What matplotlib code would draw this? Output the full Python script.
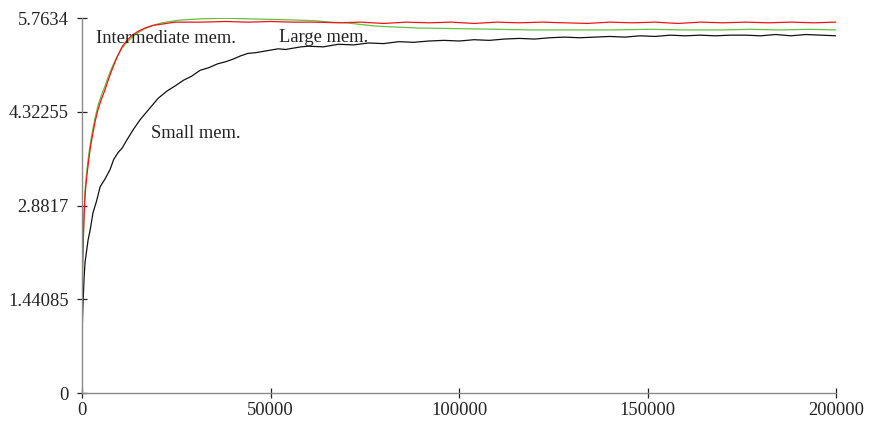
import matplotlib
matplotlib.use("Agg")
import matplotlib.pyplot as plt

plt.rcParams["font.family"] = ["Liberation Serif", "DejaVu Serif"]

# Small memory (black)
small_x = [0, 150, 300, 550, 800, 1200, 1600, 2200, 2900, 3800, 4800, 6000,
           7400, 8400, 9500, 10700, 11900, 13600, 15400, 16700, 18000, 20200,
           22500, 24700, 27000, 29100, 31300, 33600, 36000, 38000, 40000,
           42000, 44000, 46000, 48000, 50000, 52000, 54000, 56000, 58000,
           60000, 64000, 68000, 72000, 76000, 80000, 84000, 88000, 92000,
           96000, 100000, 104000, 108000, 112000, 116000, 120000, 124000,
           128000, 132000, 136000, 140000, 144000, 148000, 152000, 156000,
           160000, 164000, 168000, 172000, 176000, 180000, 184000, 188000,
           192000, 196000, 200000]
small_y = [0.86, 1.20, 1.43, 1.78, 2.01, 2.18, 2.35, 2.52, 2.77, 2.94, 3.17,
           3.28, 3.43, 3.59, 3.69, 3.77, 3.89, 4.05, 4.20, 4.29, 4.38, 4.53,
           4.64, 4.72, 4.81, 4.87, 4.96, 5.00, 5.06, 5.09, 5.13, 5.18, 5.22,
           5.23, 5.25, 5.27, 5.29, 5.28, 5.30, 5.32, 5.33, 5.32, 5.36, 5.35,
           5.38, 5.37, 5.40, 5.39, 5.41, 5.42, 5.41, 5.43, 5.42, 5.44, 5.45,
           5.44, 5.46, 5.47, 5.46, 5.47, 5.48, 5.47, 5.49, 5.48, 5.50, 5.49,
           5.50, 5.49, 5.50, 5.50, 5.49, 5.51, 5.49, 5.51, 5.50, 5.49]

# Intermediate memory (red)
inter_x = [0, 50, 150, 300, 420, 550, 680, 800, 1050, 1300, 1700, 2100,
           2500, 2900, 3500, 4200, 5100, 6100, 7000, 7900, 9200, 10600, 11900,
           13300, 14900, 16700, 18800, 21200, 24700, 31300, 38000, 44000,
           50000, 56000, 62000, 68000, 74000, 80000, 86000, 92000, 98000,
           104000, 110000, 116000, 122000, 128000, 134000, 140000, 146000,
           152000, 158000, 164000, 170000, 176000, 182000, 188000, 194000,
           200000]
inter_y = [1.45, 1.58, 1.95, 2.27, 2.52, 2.74, 2.90, 3.04, 3.21, 3.35, 3.55,
           3.73, 3.87, 4.00, 4.18, 4.35, 4.51, 4.66, 4.82, 4.96, 5.15, 5.32,
           5.42, 5.50, 5.56, 5.61, 5.65, 5.67, 5.70, 5.70, 5.71, 5.70, 5.71,
           5.70, 5.70, 5.69, 5.70, 5.68, 5.70, 5.69, 5.70, 5.68, 5.70, 5.69,
           5.70, 5.69, 5.68, 5.70, 5.69, 5.70, 5.68, 5.70, 5.69, 5.70, 5.69,
           5.70, 5.69, 5.70]

# Large memory (green)
large_x = [0, 50, 150, 300, 420, 550, 680, 800, 1050, 1300, 1700, 2100,
           2500, 2900, 3500, 4200, 5100, 6100, 7000, 7900, 9200, 10600, 11900,
           13300, 14900, 16700, 18800, 21200, 25700, 31300, 38000, 44500,
           52000, 57800, 62000, 65800, 70000, 77700, 88900, 100000, 110000,
           119600, 130000, 140000, 150700, 160000, 170000, 177200, 185000,
           193000, 200000]
large_y = [0.92, 1.60, 1.98, 2.27, 2.55, 2.78, 2.96, 3.12, 3.28, 3.43, 3.63,
           3.80, 3.94, 4.07, 4.24, 4.41, 4.57, 4.72, 4.87, 5.00, 5.16, 5.30,
           5.39, 5.47, 5.54, 5.60, 5.65, 5.69, 5.73, 5.75, 5.76, 5.75, 5.74,
           5.73, 5.72, 5.70, 5.69, 5.64, 5.61, 5.60, 5.59, 5.58, 5.58, 5.58,
           5.59, 5.58, 5.58, 5.59, 5.58, 5.59, 5.58]

y_ticks = [0, 1.44085, 2.8817, 4.32255, 5.7634]
y_tick_labels = ["0", "1.44085", "2.8817", "4.32255", "5.7634"]
x_ticks = [0, 50000, 100000, 150000, 200000]
x_tick_labels = ["0", "50000", "100000", "150000", "200000"]

fig = plt.figure(figsize=(8.7, 4.23), dpi=100)
ax = fig.add_axes([0.0943, 0.0709, 0.8667, 0.8865])

ax.plot(small_x, small_y, color="#111111", lw=0.9)
ax.plot(large_x, large_y, color="#62c23c", lw=0.9)
ax.plot(inter_x, inter_y, color="#f0141a", lw=0.9)

ax.text(3700, 5.45, "Intermediate mem.", fontsize=13.3, va="center", color="#222222")
ax.text(52300, 5.47, "Large mem.", fontsize=13.3, va="center", color="#222222")
ax.text(18300, 3.99, "Small mem.", fontsize=13.3, va="center", color="#222222")

ax.set_xlim(0, 200000)
ax.set_ylim(0, 5.7634)
ax.set_xticks(x_ticks)
ax.set_xticklabels(x_tick_labels)
ax.set_yticks(y_ticks)
ax.set_yticklabels(y_tick_labels)

for side in ["top", "right"]:
    ax.spines[side].set_visible(False)
for side in ["left", "bottom"]:
    ax.spines[side].set_color("#8a8a8a")
    ax.spines[side].set_linewidth(1.0)

ax.tick_params(direction="inout", length=7.5, width=0.9, color="#222222",
               labelsize=13.3, labelcolor="#222222")
ax.tick_params(axis="y", pad=6)
ax.tick_params(axis="x", pad=3)

fig.savefig("out.png", dpi=100)
